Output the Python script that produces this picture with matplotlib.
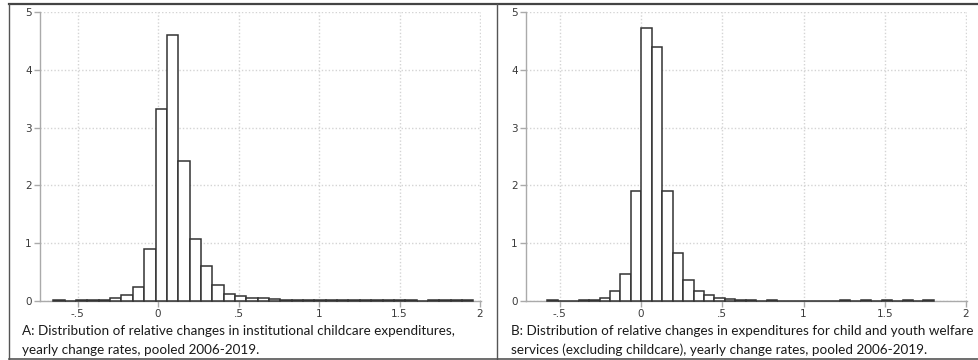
import numpy as np
import matplotlib
matplotlib.use("Agg")
import matplotlib.pyplot as plt
from matplotlib.lines import Line2D

# ---------------- data ----------------
bin_start_a = -0.65
bin_width_a = 0.0705
density_a = [0.01, 0.008, 0.02, 0.01, 0.02, 0.05, 0.11, 0.24, 0.90, 3.33,
             4.60, 2.43, 1.07, 0.60, 0.27, 0.12, 0.08, 0.06, 0.05, 0.03,
             0.012, 0.012, 0.02, 0.012, 0.02, 0.012, 0.01, 0.01, 0.01, 0.01,
             0.01, 0.01, 0.0, 0.01, 0.01, 0.01, 0.01]

bin_start_b = -0.577
bin_width_b = 0.0643
density_b = [0.01, 0.008, 0.008, 0.012, 0.02, 0.06, 0.17, 0.46, 1.90, 4.72,
             4.40, 1.90, 0.83, 0.37, 0.18, 0.10, 0.06, 0.04, 0.02, 0.01,
             0.008, 0.012, 0.008, 0.008, 0.008, 0.008, 0.008, 0.008, 0.01, 0.0,
             0.01, 0.0, 0.01, 0.0, 0.01, 0.0, 0.01]

x_ticks = [-0.5, 0, 0.5, 1, 1.5, 2]
x_tick_labels = ["-.5", "0", ".5", "1", "1.5", "2"]
y_ticks = [0, 1, 2, 3, 4, 5]
y_tick_labels = ["0", "1", "2", "3", "4", "5"]

caption_a = ["A: Distribution of relative changes in institutional childcare expenditures,",
             "yearly change rates, pooled 2006-2019."]
caption_b = ["B: Distribution of relative changes in expenditures for child and youth welfare",
             "services (excluding childcare), yearly change rates, pooled 2006-2019."]

# ---------------- figure ----------------
W, H = 979, 360
fig = plt.figure(figsize=(W / 100, H / 100), dpi=100)
fig.patch.set_facecolor("white")


def px_axes(left, top, right, bottom):
    return fig.add_axes([left / W, 1 - bottom / H, (right - left) / W, (bottom - top) / H])


def draw_panel(ax, start, width, dens, xlim):
    n = len(dens)
    lefts = start + width * np.arange(n)
    ax.bar(lefts, dens, width=width, align="edge", color="white",
           edgecolor="#333333", linewidth=1.1, zorder=3, clip_on=False)
    ax.set_xlim(*xlim)
    ax.set_ylim(0, 5)
    ax.set_xticks(x_ticks)
    ax.set_xticklabels(x_tick_labels)
    ax.set_yticks(y_ticks)
    ax.set_yticklabels(y_tick_labels)
    for s in ["top", "right"]:
        ax.spines[s].set_visible(False)
    for s in ["left", "bottom"]:
        ax.spines[s].set_color("#aaaaaa")
        ax.spines[s].set_linewidth(1.0)
    ax.tick_params(axis="both", colors="#aaaaaa", length=4, width=1.0,
                   labelsize=7.5, labelcolor="#3a3a3a", pad=2)
    ax.grid(True, color="#d4d4d4", linestyle=(0, (1, 1.5)), linewidth=1.0, zorder=0)
    ax.set_axisbelow(True)
    ax.set_facecolor("white")


ax_a = px_axes(40, 12, 481, 301)
draw_panel(ax_a, bin_start_a, bin_width_a, density_a, (-0.733, 2.006))

ax_b = px_axes(526, 12, 967, 301)
draw_panel(ax_b, bin_start_b, bin_width_b, density_b, (-0.708, 2.006))

# captions
cap_font = dict(family=["Lato", "DejaVu Sans"], fontsize=9.75, color="#1a1a1a")
for i, line in enumerate(caption_a):
    fig.text(22 / W, 1 - (335 + 19 * i) / H, line, ha="left", va="baseline", **cap_font)
for i, line in enumerate(caption_b):
    fig.text(511 / W, 1 - (335 + 19 * i) / H, line, ha="left", va="baseline", **cap_font)

# outer frame and divider
frame_c = "#555555"
fig.add_artist(Line2D([9 / W, 1], [1 - 4 / H, 1 - 4 / H], transform=fig.transFigure,
                      color="#444444", linewidth=1.6))
fig.add_artist(Line2D([9 / W, 1], [1 - 358.5 / H, 1 - 358.5 / H], transform=fig.transFigure,
                      color=frame_c, linewidth=1.2))
fig.add_artist(Line2D([9 / W, 9 / W], [1 - 4 / H, 1 - 358.5 / H], transform=fig.transFigure,
                      color=frame_c, linewidth=1.0))
fig.add_artist(Line2D([497 / W, 497 / W], [1 - 4 / H, 1 - 358.5 / H], transform=fig.transFigure,
                      color=frame_c, linewidth=1.0))

fig.savefig("out.png", dpi=100)
